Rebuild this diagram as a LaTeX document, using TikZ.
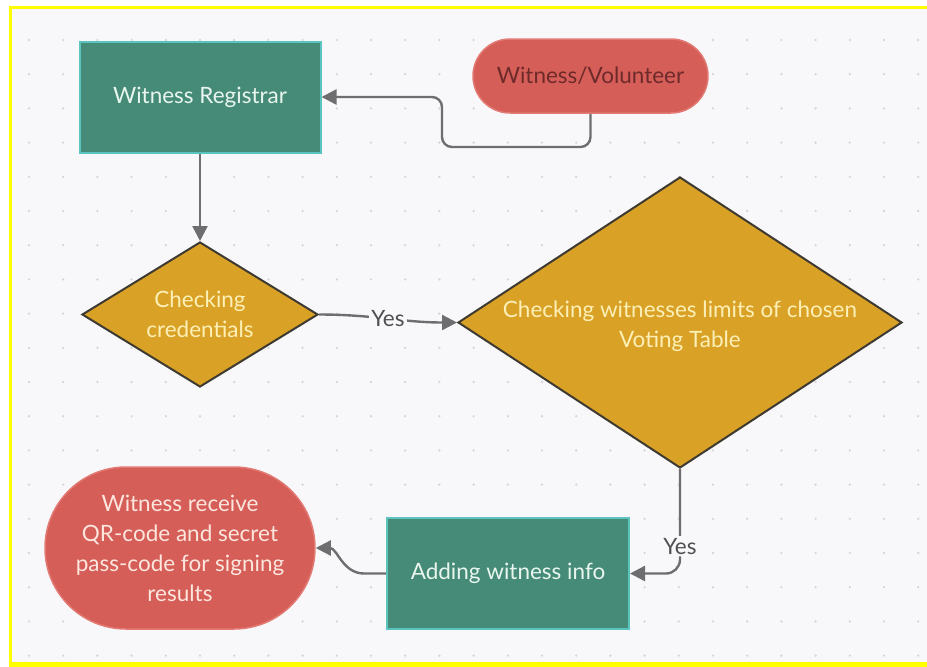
\documentclass[tikz,border=0pt]{standalone}
\usepackage{fontspec}
\setmainfont{Lato}
\usetikzlibrary{shapes.geometric,shapes.misc,arrows.meta}

\definecolor{bg}{HTML}{F8F8FA}
\definecolor{dotc}{HTML}{D6D6DA}
\definecolor{frame}{HTML}{FFFF00}
\definecolor{tealfill}{HTML}{468A78}
\definecolor{tealedge}{HTML}{5BC4BE}
\definecolor{tealtext}{HTML}{E8F6EE}
\definecolor{redfill}{HTML}{D65E58}
\definecolor{rededge}{HTML}{E37A74}
\definecolor{voltext}{HTML}{6E2A2A}
\definecolor{fintext}{HTML}{FCE6DE}
\definecolor{goldfill}{HTML}{D9A126}
\definecolor{goldedge}{HTML}{3E3A32}
\definecolor{goldtext}{HTML}{FDF0B6}
\definecolor{linegray}{HTML}{6E6E70}
\definecolor{yestext}{HTML}{505052}

\newcommand{\labelfont}{\fontsize{22.5}{30}\selectfont}

\begin{document}
\begin{tikzpicture}[x=1pt,y=-1pt,
  conn/.style={draw=linegray, line width=2.4pt, -{Triangle[length=15pt,width=15pt]}},
  tealbox/.style={rectangle, fill=tealfill, draw=tealedge, line width=2pt,
    text=tealtext, font=\labelfont, inner sep=0pt},
  pill/.style={rounded rectangle, fill=redfill, draw=rededge, line width=1.5pt,
    font=\labelfont, align=center, inner sep=0pt},
  dia/.style={diamond, fill=goldfill, draw=goldedge, line width=2pt, inner sep=0pt},
  diatext/.style={text=goldtext, font=\labelfont, align=center},
  yeslabel/.style={fill=bg, text=yestext, font=\labelfont, inner sep=2pt}
]
\useasboundingbox (0,0) rectangle (927,667);

% page, yellow frame and dotted canvas
\fill[white] (0,0) rectangle (927,667);
\fill[frame] (9,6) rectangle (927,667);
\fill[bg] (12,9) rectangle (927,662);
\foreach \i in {0,...,26}
  \foreach \j in {0,...,18}
    \fill[dotc] (29+34.2*\i, 40+34.2*\j) circle (1.3pt);

% shapes
\node[tealbox, minimum width=241pt, minimum height=111pt] (reg) at (200,97) {\raisebox{-2pt}{Witness Registrar}};
\node[pill, minimum width=235pt, minimum height=74pt, text=voltext] (vol) at (590.5,76) {Witness/Volunteer};
\node[dia, minimum width=236pt, minimum height=145pt] (d1) at (200,314.5) {};
\node[diatext] at (d1) {Checking\\credentials};
\node[dia, minimum width=444pt, minimum height=291pt] (d2) at (680,322.5) {};
\node[diatext] at ([yshift=-4pt]d2.center) {Checking witnesses limits of chosen\\Voting Table};
\node[tealbox, minimum width=242pt, minimum height=111pt] (add) at (508,573.5) {Adding witness info};
\node[pill, minimum width=270pt, minimum height=162pt, text=fintext] (fin) at (180,548)
  {Witness receive\\QR-code and secret\\pass-code for signing\\results};

% connectors
\coordinate (bend) at (442,147);
\draw[conn, rounded corners=10pt] (vol.south) |- (bend) |- (reg.east);
\draw[conn] (reg.south) -- (d1.north);
\draw[conn] (d1.east) to[out=0,in=180] node[yeslabel]{Yes} (d2.west);
\draw[conn, rounded corners=14pt] (d2.south) |- node[yeslabel, pos=0.37]{Yes} (add.east);
\draw[conn] (add.west) -- ++(-22,0) to[out=180,in=0] (fin.east);
\end{tikzpicture}
\end{document}
